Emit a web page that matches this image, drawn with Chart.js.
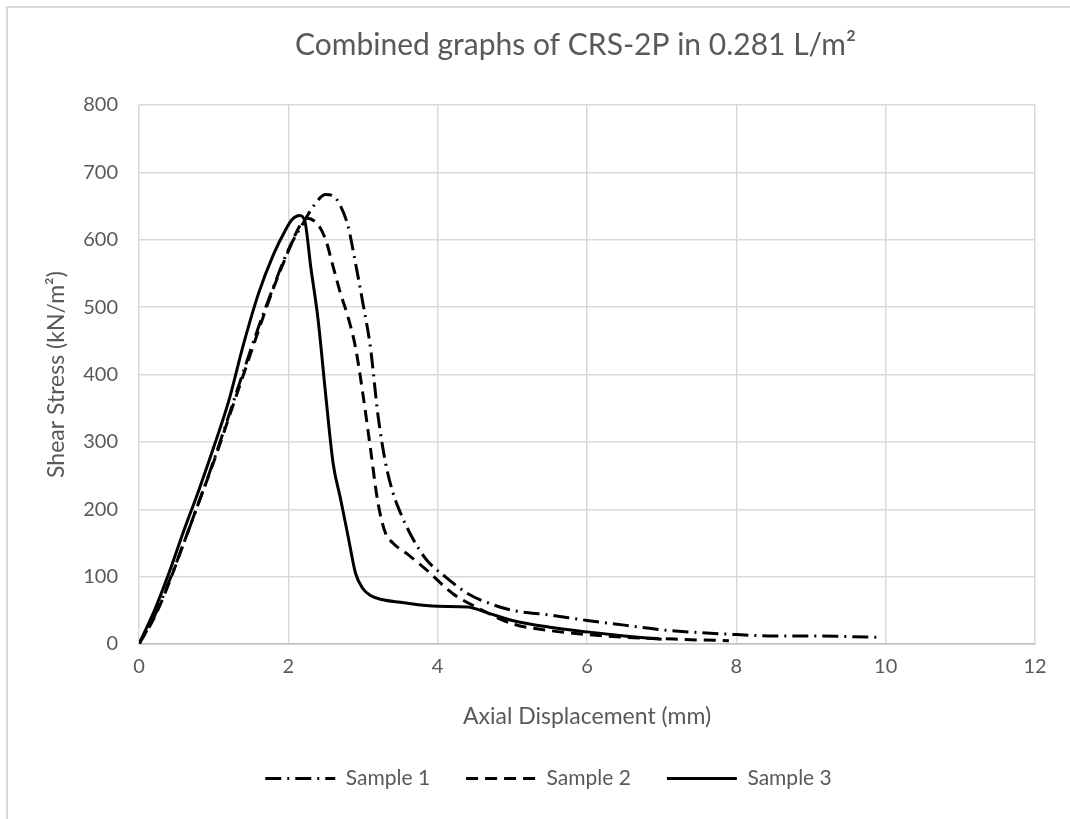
<!DOCTYPE html>
<html>
<head>
<meta charset="utf-8">
<script src="https://cdn.jsdelivr.net/npm/chart.js@4"></script>
<style>
  html, body { margin: 0; padding: 0; background: #fff; overflow: hidden; }
  #frame { position: absolute; left: 6px; top: 6px; width: 1200px; height: 900px;
           border-left: 2px solid #d9d9d9; border-top: 2px solid #d9d9d9; }
  #wrap { position: absolute; left: 0; top: 0; width: 1070px; height: 819px; }
</style>
</head>
<body>
<div id="frame"></div>
<div id="wrap"><canvas id="chart"></canvas></div>
<script>
const xTicks = [0, 2, 4, 6, 8, 10, 12];
const yTicks = [0, 100, 200, 300, 400, 500, 600, 700, 800];

const sample1X = [0, 0.2, 0.4, 0.6, 0.8, 1.0, 1.2, 1.4, 1.6, 1.8, 2.0, 2.2, 2.35, 2.5, 2.6, 2.7, 2.8, 2.9, 3.0, 3.1, 3.2, 3.3, 3.4, 3.5, 3.65, 3.85, 4.1, 4.4, 4.75, 5.0, 5.5, 6.0, 6.5, 7.0, 7.5, 8.0, 8.5, 9.0, 9.5, 9.9];
const sample1Y = [0, 40, 92, 150, 210, 272, 338, 405, 470, 530, 585, 625, 652, 667, 665, 650, 620, 565, 505, 440, 340, 270, 225, 195, 160, 125, 100, 75, 58, 50, 43, 35, 28, 21, 17, 14, 12, 12, 11, 10];

const sample2X = [0, 0.2, 0.4, 0.6, 0.8, 1.0, 1.2, 1.4, 1.6, 1.8, 2.0, 2.15, 2.25, 2.4, 2.5, 2.6, 2.7, 2.8, 2.9, 3.0, 3.1, 3.2, 3.3, 3.4, 3.6, 3.85, 4.2, 4.6, 5.0, 5.5, 6.0, 6.5, 7.0, 7.5, 7.9];
const sample2Y = [0, 38, 90, 150, 210, 270, 335, 400, 465, 528, 583, 620, 632, 622, 600, 560, 520, 485, 440, 370, 290, 210, 165, 150, 133, 110, 75, 50, 30, 20, 14, 10, 8, 6, 5];

const sample3X = [0, 0.2, 0.4, 0.6, 0.8, 1.0, 1.2, 1.4, 1.6, 1.8, 1.95, 2.05, 2.15, 2.22, 2.3, 2.4, 2.5, 2.6, 2.7, 2.8, 2.9, 3.0, 3.1, 3.25, 3.5, 4.0, 4.4, 4.7, 5.0, 5.5, 6.0, 6.5, 7.0];
const sample3Y = [0, 48, 105, 168, 228, 292, 360, 445, 520, 578, 612, 630, 636, 628, 560, 480, 370, 268, 215, 160, 105, 82, 72, 66, 62, 56, 55, 45, 35, 25, 18, 12, 7];

const seriesNames = ['Sample 1', 'Sample 2', 'Sample 3'];

const pts = (xs, ys) => xs.map((x, i) => ({ x: x, y: ys[i] }));

const font = 'Lato, "Open Sans", sans-serif';
const textColor = '#595959';
const gridColor = '#d9d9d9';

// move title and legend sideways like in the Excel original
const shiftBoxes = {
  id: 'shiftBoxes',
  afterLayout(chart) {
    chart.titleBlock.left += 58;
    chart.titleBlock.right += 58;
    chart.legend.left += 31;
    chart.legend.right += 31;
  }
};

function line(name, data, dash) {
  return {
    label: name,
    data: data,
    borderColor: '#000',
    backgroundColor: '#000',
    borderWidth: 3,
    borderDash: dash,
    pointRadius: 0,
    fill: false,
    cubicInterpolationMode: 'monotone',
  };
}

new Chart(document.getElementById('chart'), {
  type: 'scatter',
  data: {
    datasets: [
      line(seriesNames[0], pts(sample1X, sample1Y), [16, 6, 2, 6]),
      line(seriesNames[1], pts(sample2X, sample2Y), [12, 7]),
      line(seriesNames[2], pts(sample3X, sample3Y), []),
    ],
  },
  options: {
    responsive: true,
    maintainAspectRatio: false,
    animation: false,
    showLine: true,
    layout: { padding: { left: 0, right: 35, top: 0, bottom: 20 } },
    scales: {
      x: {
        type: 'linear',
        min: 0,
        max: 12,
        afterBuildTicks: (scale) => { scale.ticks = xTicks.map(v => ({ value: v })); },
        afterFit: (scale) => { scale.height = 88; },
        grid: { color: gridColor, lineWidth: 1.5, drawTicks: false },
        border: { color: '#bfbfbf', width: 1.5 },
        ticks: { color: textColor, font: { family: font, size: 20 }, padding: 11 },
        title: {
          display: true,
          text: 'Axial Displacement (mm)',
          color: textColor,
          font: { family: font, size: 23 },
          padding: { top: 0, bottom: 2 },
        },
      },
      y: {
        min: 0,
        max: 800,
        afterBuildTicks: (scale) => { scale.ticks = yTicks.map(v => ({ value: v })); },
        afterFit: (scale) => { scale.width = 139; },
        grid: { color: gridColor, lineWidth: 1.5, drawTicks: false },
        border: { display: false },
        ticks: { color: textColor, font: { family: font, size: 20 }, padding: 21 },
        title: {
          display: true,
          text: 'Shear Stress (kN/m²)',
          color: textColor,
          font: { family: font, size: 23 },
          padding: { top: 43, bottom: 0 },
        },
      },
    },
    plugins: {
      title: {
        display: true,
        text: 'Combined graphs of CRS-2P in 0.281 L/m²',
        color: textColor,
        font: { family: font, size: 30, weight: 'normal' },
        padding: { top: 27, bottom: 42 },
      },
      legend: {
        display: true,
        position: 'bottom',
        labels: {
          color: textColor,
          font: { family: font, size: 21 },
          usePointStyle: true,
          pointStyle: 'line',
          pointStyleWidth: 70,
          padding: 36,
          generateLabels(chart) {
            const items = Chart.defaults.plugins.legend.labels.generateLabels(chart);
            items.forEach((it, i) => {
              it.lineDash = chart.data.datasets[i].borderDash;
              it.lineWidth = 3;
              it.strokeStyle = '#000';
            });
            return items;
          },
        },
      },
      tooltip: { enabled: false },
    },
  },
  plugins: [shiftBoxes],
});
</script>
</body>
</html>
